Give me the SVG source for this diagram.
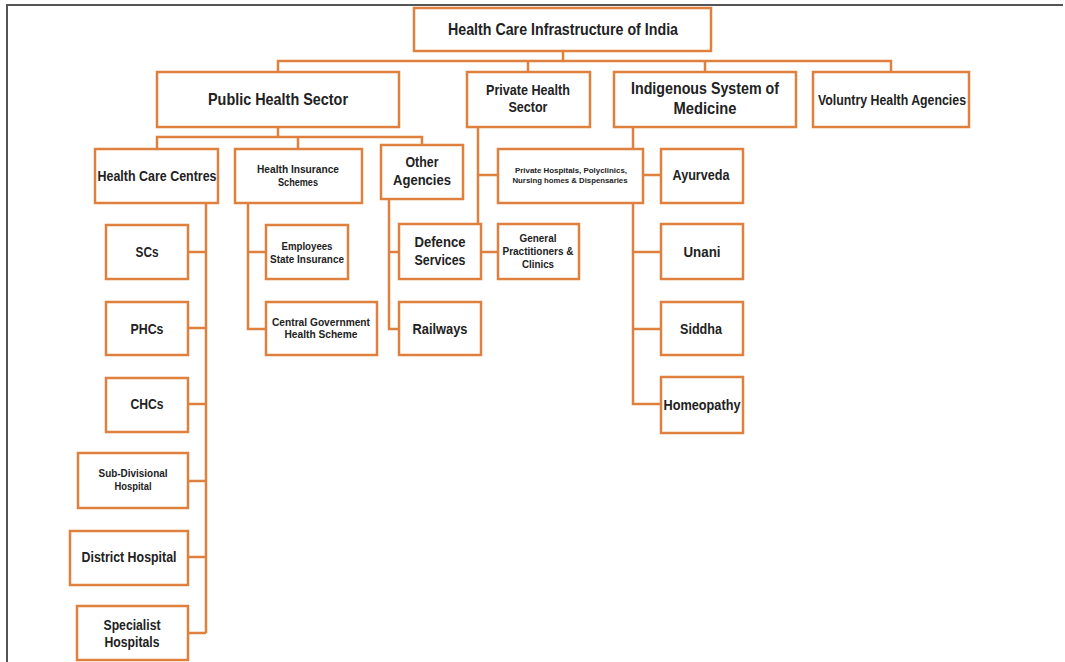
<svg xmlns="http://www.w3.org/2000/svg" width="1065" height="662" viewBox="0 0 1065 662">
<style>
.b{fill:#fff;stroke:#E0803F;stroke-width:2.5}
.c{fill:none;stroke:#E0803F;stroke-width:2.5}
text{font-family:"Liberation Sans",Arial,sans-serif;fill:#222;text-anchor:middle;font-weight:bold}
.h{font-size:17px}
.m{font-size:15.5px}
.s{font-size:10px}
.t{font-size:7.5px}
</style>
<rect width="1065" height="662" fill="#fff"/>
<path d="M7 662V5H1063" fill="none" stroke="#555" stroke-width="2"/>
<g id="connectors">
<path class="c" d="M563 51V61M278 72V61H891V72M528 61V72M705 61V72"/>
<path class="c" d="M278 127V137M157 149V137H422V145M298 137V149"/>
<path class="c" d="M206 203V633M188 252H206M188 328H206M188 404H206M188 481H206M188 557H206M188 633H206"/>
<path class="c" d="M248 203V329H266M248 252H266"/>
<path class="c" d="M389 199V329H399M389 252H399"/>
<path class="c" d="M478 127V224M478 175H498M481 252H498"/>
<path class="c" d="M633 127V404H661M633 252H661M633 329H661M643 175H661"/>
</g>
<g id="root"><rect class="b" x="414" y="8" width="297" height="43"/><text class="h" x="563" y="35" textLength="230" lengthAdjust="spacingAndGlyphs">Health Care Infrastructure of India</text></g>
<g id="public"><rect class="b" x="157" y="72" width="242" height="55"/><text class="h" x="278" y="105" textLength="140" lengthAdjust="spacingAndGlyphs">Public Health Sector</text></g>
<g id="private"><rect class="b" x="467" y="72" width="123" height="55"/><text class="m" x="528" y="95" textLength="84" lengthAdjust="spacingAndGlyphs">Private Health</text><text class="m" x="528" y="112" textLength="39" lengthAdjust="spacingAndGlyphs">Sector</text></g>
<g id="indigenous"><rect class="b" x="614" y="72" width="182" height="55"/><text class="h" x="705" y="94" textLength="148" lengthAdjust="spacingAndGlyphs">Indigenous System of</text><text class="h" x="705" y="114" textLength="63" lengthAdjust="spacingAndGlyphs">Medicine</text></g>
<g id="voluntary"><rect class="b" x="813" y="72" width="156" height="55"/><text class="m" x="892" y="105" textLength="148" lengthAdjust="spacingAndGlyphs">Voluntry Health Agencies</text></g>
<g id="hcc"><rect class="b" x="95" y="149" width="123" height="54"/><text class="m" x="157" y="181" textLength="119" lengthAdjust="spacingAndGlyphs">Health Care Centres</text></g>
<g id="his"><rect class="b" x="235" y="149" width="127" height="54"/><text class="s" x="298" y="173" textLength="82" lengthAdjust="spacingAndGlyphs">Health Insurance</text><text class="s" x="298" y="186" textLength="40" lengthAdjust="spacingAndGlyphs">Schemes</text></g>
<g id="other"><rect class="b" x="381" y="145" width="82" height="54"/><text class="m" x="422" y="167" textLength="33" lengthAdjust="spacingAndGlyphs">Other</text><text class="m" x="422" y="185" textLength="58" lengthAdjust="spacingAndGlyphs">Agencies</text></g>
<g id="scs"><rect class="b" x="106" y="225" width="82" height="54"/><text class="m" x="147" y="257" textLength="23" lengthAdjust="spacingAndGlyphs">SCs</text></g>
<g id="phcs"><rect class="b" x="106" y="302" width="82" height="53"/><text class="m" x="147" y="334" textLength="33" lengthAdjust="spacingAndGlyphs">PHCs</text></g>
<g id="chcs"><rect class="b" x="106" y="378" width="82" height="54"/><text class="m" x="147" y="409" textLength="33" lengthAdjust="spacingAndGlyphs">CHCs</text></g>
<g id="subdiv"><rect class="b" x="78" y="453" width="110" height="55"/><text class="s" x="133" y="477" textLength="69" lengthAdjust="spacingAndGlyphs">Sub-Divisional</text><text class="s" x="133" y="490" textLength="37" lengthAdjust="spacingAndGlyphs">Hospital</text></g>
<g id="district"><rect class="b" x="70" y="531" width="118" height="54"/><text class="m" x="129" y="562" textLength="95" lengthAdjust="spacingAndGlyphs">District Hospital</text></g>
<g id="specialist"><rect class="b" x="77" y="606" width="111" height="54"/><text class="m" x="132" y="630" textLength="57" lengthAdjust="spacingAndGlyphs">Specialist</text><text class="m" x="132" y="647" textLength="55" lengthAdjust="spacingAndGlyphs">Hospitals</text></g>
<g id="esi"><rect class="b" x="266" y="225" width="82" height="54"/><text class="s" x="307" y="250" textLength="51" lengthAdjust="spacingAndGlyphs">Employees</text><text class="s" x="307" y="263" textLength="74" lengthAdjust="spacingAndGlyphs">State Insurance</text></g>
<g id="cghs"><rect class="b" x="266" y="302" width="111" height="53"/><text class="s" x="321" y="326" textLength="98" lengthAdjust="spacingAndGlyphs">Central Government</text><text class="s" x="321" y="338" textLength="73" lengthAdjust="spacingAndGlyphs">Health Scheme</text></g>
<g id="defence"><rect class="b" x="399" y="224" width="82" height="55"/><text class="m" x="440" y="247" textLength="51" lengthAdjust="spacingAndGlyphs">Defence</text><text class="m" x="440" y="265" textLength="51" lengthAdjust="spacingAndGlyphs">Services</text></g>
<g id="railways"><rect class="b" x="399" y="302" width="82" height="53"/><text class="m" x="440" y="334" textLength="55" lengthAdjust="spacingAndGlyphs">Railways</text></g>
<g id="gp"><rect class="b" x="498" y="224" width="81" height="55"/><text class="s" x="538" y="242" textLength="37" lengthAdjust="spacingAndGlyphs">General</text><text class="s" x="538" y="255" textLength="71" lengthAdjust="spacingAndGlyphs">Practitioners &amp;</text><text class="s" x="538" y="268" textLength="32" lengthAdjust="spacingAndGlyphs">Clinics</text></g>
<g id="privhosp"><rect class="b" x="498" y="149" width="145" height="54"/><text class="t" x="571" y="173" textLength="112" lengthAdjust="spacingAndGlyphs">Private Hospitals,  Polyclinics,</text><text class="t" x="570" y="183" textLength="115" lengthAdjust="spacingAndGlyphs">Nursing  homes  &amp; Dispensaries</text></g>
<g id="ayurveda"><rect class="b" x="661" y="149" width="82" height="54"/><text class="m" x="701" y="180" textLength="57" lengthAdjust="spacingAndGlyphs">Ayurveda</text></g>
<g id="unani"><rect class="b" x="661" y="224" width="82" height="55"/><text class="m" x="702" y="257" textLength="37" lengthAdjust="spacingAndGlyphs">Unani</text></g>
<g id="siddha"><rect class="b" x="661" y="302" width="82" height="53"/><text class="m" x="701" y="334" textLength="42" lengthAdjust="spacingAndGlyphs">Siddha</text></g>
<g id="homeopathy"><rect class="b" x="661" y="377" width="82" height="56"/><text class="m" x="702" y="410" textLength="77" lengthAdjust="spacingAndGlyphs">Homeopathy</text></g>
</svg>
